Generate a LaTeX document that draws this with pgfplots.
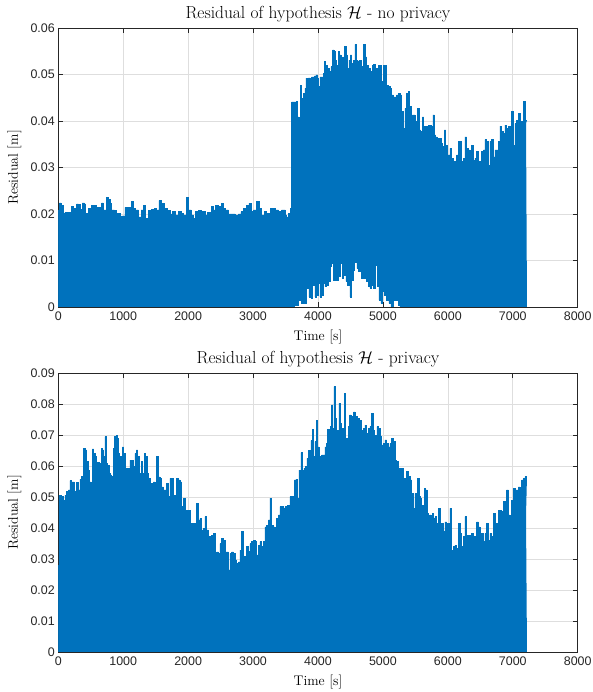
\documentclass[border=0pt]{standalone}
\usepackage{fontspec}
\usepackage{pgfplots}
\pgfplotsset{compat=1.18}
\newfontfamily\tickfont{Liberation Sans}
\definecolor{mblue}{rgb}{0,0.447,0.741}
\pgfplotsset{
  every axis title shift=0pt,
  mstyle/.style={
    scale only axis, width=519.4bp, height=279bp, anchor=south west,
    xmin=0, xmax=8000, ymin=0, scaled ticks=false,
    xtick={0,1000,2000,3000,4000,5000,6000,7000,8000},
    xticklabels={0,1000,2000,3000,4000,5000,6000,7000,8000},
    grid=major, grid style={color=black!13, line width=0.6bp},
    axis line style={color=black!85, line width=0.6bp},
    tick style={color=black!85, line width=0.6bp},
    major tick length=5bp, tick align=inside,
    ticklabel style={font=\tickfont\fontsize{12.5}{14}\selectfont, color=black!85},
    xticklabel style={yshift=-1bp},
    label style={font=\fontsize{14}{16}\selectfont},
    title style={font=\fontsize{17.5}{20}\selectfont, at={(axis description cs:0.5,1.0358)}, anchor=base, yshift=0pt},
    xlabel style={at={(axis description cs:0.5,-0.1183)}, anchor=base},
    ylabel style={at={(axis description cs:-0.0847,0.5)}, anchor=center},
    xlabel={Time [s]}, ylabel={Residual [m]},
  }
}
\begin{document}
\begin{tikzpicture}
\path[use as bounding box] (0,0) rectangle (593bp,692bp);
% ---------------- top axis ----------------
\begin{axis}[mstyle, at={(58.3bp,385bp)}, ymax=0.06,
  ytick={0,0.01,0.02,0.03,0.04,0.05,0.06},
  yticklabels={0,0.01,0.02,0.03,0.04,0.05,0.06},
  title={Residual of hypothesis $\mathcal{H}$ - no privacy}]
% upper envelope (forward), then lower envelope of the hole (backward)
\addplot[const plot, mblue, line width=0.5bp, fill=mblue] coordinates {
(0,0.0209) (15,0.0224) (40,0.0219) (70,0.0202) (103,0.0204) (180,0.0204) (206,0.0217) (232,0.0212)
(257,0.0202) (283,0.0222) (309,0.0221) (334,0.0210) (370,0.0224) (401,0.0222) (422,0.0202) (463,0.0212)
(514,0.0218) (565,0.0218) (591,0.0214) (642,0.0205) (668,0.0224) (694,0.0209) (745,0.0236) (771,0.0232)
(796,0.0223) (822,0.0209) (863,0.0207) (899,0.0202) (950,0.0194) (976,0.0196) (1027,0.0214) (1079,0.0214)
(1120,0.0227) (1156,0.0212) (1192,0.0209) (1233,0.0194) (1274,0.0209) (1310,0.0219) (1346,0.0191) (1387,0.0207)
(1438,0.0210) (1479,0.0212) (1515,0.0209) (1551,0.0229) (1592,0.0223) (1633,0.0212) (1685,0.0207) (1720,0.0200)
(1756,0.0205) (1797,0.0198) (1849,0.0205) (1890,0.0202) (1926,0.0198) (1977,0.0236) (2003,0.0209) (2044,0.0198)
(2080,0.0191) (2106,0.0205) (2157,0.0207) (2208,0.0206) (2259,0.0198) (2301,0.0203) (2352,0.0217) (2388,0.0209)
(2424,0.0219) (2465,0.0216) (2516,0.0223) (2542,0.0212) (2578,0.0209) (2619,0.0200) (2670,0.0200) (2722,0.0198)
(2773,0.0200) (2814,0.0205) (2850,0.0212) (2901,0.0219) (2937,0.0223) (2968,0.0205) (3004,0.0209) (3055,0.0227)
(3091,0.0212) (3132,0.0198) (3173,0.0205) (3209,0.0202) (3261,0.0212) (3312,0.0212) (3348,0.0209) (3389,0.0205)
(3440,0.0209) (3492,0.0198) (3517,0.0194) (3543,0.0201) (3569,0.0212) (3594,0.0441) (3671,0.0442) (3686,0.0409)
(3707,0.0406) (3732,0.0477) (3748,0.0449) (3773,0.0460) (3799,0.0470) (3814,0.0492) (3850,0.0493) (3876,0.0492)
(3891,0.0434) (3902,0.0495) (3943,0.0497) (3968,0.0499) (3994,0.0492) (4004,0.0474) (4030,0.0495) (4056,0.0495)
(4081,0.0503) (4097,0.0528) (4117,0.0520) (4148,0.0513) (4174,0.0506) (4200,0.0517) (4225,0.0553) (4246,0.0549)
(4261,0.0531) (4287,0.0520) (4312,0.0549) (4333,0.0542) (4354,0.0538) (4374,0.0531) (4395,0.0538) (4410,0.0560)
(4431,0.0542) (4451,0.0513) (4477,0.0531) (4497,0.0542) (4518,0.0524) (4543,0.0531) (4569,0.0565) (4590,0.0531)
(4610,0.0528) (4631,0.0531) (4662,0.0517) (4682,0.0492) (4703,0.0565) (4723,0.0538) (4749,0.0520) (4775,0.0513)
(4800,0.0477) (4816,0.0506) (4836,0.0520) (4857,0.0522) (4877,0.0510) (4903,0.0513) (4929,0.0520) (4954,0.0520)
(4980,0.0485) (5006,0.0520) (5031,0.0520) (5057,0.0477) (5083,0.0474) (5108,0.0470) (5134,0.0456) (5160,0.0452)
(5185,0.0452) (5211,0.0456) (5237,0.0460) (5262,0.0456) (5288,0.0420) (5314,0.0384) (5340,0.0427) (5366,0.0460)
(5391,0.0463) (5412,0.0431) (5432,0.0406) (5453,0.0413) (5473,0.0413) (5494,0.0392) (5509,0.0399) (5530,0.0427)
(5556,0.0381) (5581,0.0377) (5607,0.0409) (5628,0.0388) (5648,0.0381) (5674,0.0388) (5699,0.0390) (5725,0.0391)
(5751,0.0388) (5771,0.0413) (5792,0.0370) (5812,0.0366) (5833,0.0363) (5853,0.0348) (5874,0.0363) (5894,0.0352)
(5920,0.0345) (5946,0.0381) (5966,0.0348) (5997,0.0327) (6033,0.0341) (6059,0.0320) (6084,0.0313) (6110,0.0295)
(6136,0.0327) (6161,0.0356) (6187,0.0356) (6213,0.0313) (6238,0.0320) (6264,0.0366) (6290,0.0341) (6315,0.0338)
(6341,0.0302) (6367,0.0348) (6392,0.0316) (6418,0.0320) (6444,0.0334) (6469,0.0313) (6495,0.0302) (6521,0.0334)
(6546,0.0338) (6572,0.0360) (6598,0.0356) (6624,0.0305) (6649,0.0356) (6675,0.0360) (6701,0.0323) (6726,0.0338)
(6752,0.0338) (6778,0.0356) (6803,0.0389) (6829,0.0377) (6855,0.0374) (6880,0.0391) (6906,0.0384) (6932,0.0388)
(6957,0.0381) (6983,0.0420) (7009,0.0348) (7034,0.0395) (7060,0.0402) (7086,0.0416) (7111,0.0395) (7137,0.0399)
(7163,0.0442) (7188,0.0402) (7200,0.0395)
(7200,0) (5288,0) (5262,0.0004) (5237,0.0015) (5160,0) (5124,0.0008) (5093,0.0015) (5057,0.0026) (5021,0.0033)
(4995,0.0008) (4970,0.0015) (4939,0.0044) (4918,0.0090) (4877,0.0040) (4852,0.0047) (4826,0.0040) (4800,0.0044)
(4775,0.0055) (4749,0.0065) (4723,0.0062) (4697,0.0062) (4672,0.0080) (4646,0.0076) (4620,0.0083) (4600,0.0097)
(4579,0.0108) (4559,0.0080) (4543,0.0058) (4518,0.0022) (4492,0.0047) (4456,0.0055) (4431,0.0069) (4395,0.0062)
(4374,0.0094) (4338,0.0066) (4312,0.0058) (4287,0.0062) (4261,0.0058) (4235,0.0094) (4210,0.0087) (4184,0.0055)
(4158,0.0047) (4133,0.0044) (4107,0.0051) (4081,0.0026) (4056,0.0022) (4030,0.0051) (4004,0.0026) (3979,0.0022)
(3953,0.0047) (3912,0.0019) (3891,0.0022) (3861,0.0040) (3825,0.0008) (3773,0.0008) (3748,0.0015) (3696,0.0004)
(3645,0.0008) (3640,0) (0,0)
} -- cycle;
\end{axis}
% ---------------- bottom axis ----------------
\begin{axis}[mstyle, at={(58.3bp,40bp)}, ymax=0.09,
  ytick={0,0.01,0.02,0.03,0.04,0.05,0.06,0.07,0.08,0.09},
  yticklabels={0,0.01,0.02,0.03,0.04,0.05,0.06,0.07,0.08,0.09},
  title={Residual of hypothesis $\mathcal{H}$ - privacy}]
\addplot[const plot, mblue, line width=0.5bp, fill=mblue] coordinates {
(0,0.0280) (8,0.0506) (42,0.0503) (78,0.0490) (103,0.0506) (129,0.0517) (155,0.0523) (180,0.0553)
(206,0.0549) (232,0.0549) (247,0.0517) (268,0.0474) (283,0.0546) (309,0.0523) (334,0.0557) (360,0.0566)
(386,0.0657) (411,0.0652) (437,0.0614) (463,0.0587) (478,0.0549) (504,0.0533) (524,0.0655) (545,0.0641)
(565,0.0630) (581,0.0560) (606,0.0611) (632,0.0609) (658,0.0657) (678,0.0652) (699,0.0630) (719,0.0695)
(740,0.0609) (760,0.0603) (781,0.0576) (802,0.0571) (822,0.0566) (848,0.0657) (863,0.0695) (889,0.0700)
(909,0.0689) (925,0.0641) (945,0.0630) (966,0.0630) (986,0.0662) (1007,0.0641) (1027,0.0593) (1053,0.0593)
(1079,0.0593) (1104,0.0619) (1130,0.0619) (1156,0.0598) (1181,0.0641) (1202,0.0652) (1223,0.0630) (1243,0.0576)
(1264,0.0571) (1284,0.0614) (1300,0.0576) (1325,0.0641) (1346,0.0630) (1366,0.0576) (1387,0.0560) (1412,0.0533)
(1438,0.0544) (1464,0.0549) (1489,0.0538) (1515,0.0630) (1541,0.0565) (1566,0.0560) (1592,0.0533) (1618,0.0523)
(1643,0.0523) (1669,0.0544) (1695,0.0501) (1720,0.0560) (1746,0.0560) (1771,0.0505) (1797,0.0495) (1823,0.0560)
(1848,0.0555) (1874,0.0549) (1900,0.0469) (1925,0.0496) (1951,0.0426) (1977,0.0458) (2002,0.0458) (2028,0.0399)
(2054,0.0415) (2079,0.0415) (2105,0.0410) (2131,0.0480) (2156,0.0426) (2182,0.0431) (2208,0.0394) (2233,0.0399)
(2259,0.0437) (2285,0.0394) (2310,0.0372) (2336,0.0350) (2362,0.0377) (2387,0.0383) (2413,0.0313) (2439,0.0323)
(2464,0.0318) (2490,0.0350) (2516,0.0367) (2541,0.0361) (2567,0.0323) (2593,0.0323) (2618,0.0265) (2644,0.0318)
(2670,0.0323) (2695,0.0318) (2721,0.0297) (2747,0.0286) (2772,0.0291) (2798,0.0329) (2824,0.0388) (2849,0.0308)
(2875,0.0308) (2901,0.0340) (2926,0.0324) (2952,0.0350) (2978,0.0356) (3004,0.0361) (3029,0.0356) (3055,0.0313)
(3081,0.0345) (3106,0.0356) (3132,0.0340) (3158,0.0356) (3183,0.0404) (3209,0.0409) (3235,0.0426) (3260,0.0496)
(3286,0.0409) (3312,0.0404) (3337,0.0393) (3363,0.0431) (3389,0.0442) (3414,0.0469) (3440,0.0469) (3466,0.0463)
(3491,0.0469) (3532,0.0474) (3568,0.0501) (3594,0.0503) (3635,0.0555) (3660,0.0557) (3686,0.0496) (3707,0.0587)
(3737,0.0643) (3758,0.0587) (3784,0.0593) (3809,0.0598) (3830,0.0625) (3850,0.0650) (3876,0.0646) (3891,0.0682)
(3912,0.0718) (3933,0.0630) (3953,0.0679) (3974,0.0746) (3994,0.0662) (4015,0.0625) (4035,0.0630) (4056,0.0636)
(4081,0.0636) (4107,0.0662) (4133,0.0673) (4148,0.0718) (4169,0.0679) (4189,0.0727) (4210,0.0797) (4225,0.0722)
(4246,0.0856) (4261,0.0754) (4287,0.0679) (4302,0.0716) (4323,0.0802) (4343,0.0738) (4364,0.0722) (4389,0.0716)
(4405,0.0834) (4425,0.0689) (4446,0.0679) (4466,0.0727) (4487,0.0765) (4507,0.0759) (4528,0.0759) (4549,0.0775)
(4569,0.0743) (4590,0.0759) (4610,0.0754) (4631,0.0743) (4651,0.0748) (4672,0.0716) (4697,0.0722) (4723,0.0732)
(4749,0.0705) (4775,0.0722) (4800,0.0727) (4826,0.0770) (4846,0.0716) (4867,0.0679) (4887,0.0700) (4908,0.0727)
(4929,0.0722) (4954,0.0695) (4980,0.0668) (5006,0.0673) (5031,0.0684) (5057,0.0673) (5083,0.0662) (5108,0.0673)
(5134,0.0689) (5160,0.0679) (5185,0.0619) (5211,0.0614) (5237,0.0593) (5262,0.0565) (5288,0.0593) (5314,0.0560)
(5340,0.0555) (5366,0.0582) (5391,0.0566) (5417,0.0555) (5443,0.0512) (5468,0.0463) (5494,0.0512) (5520,0.0431)
(5535,0.0560) (5556,0.0501) (5576,0.0496) (5597,0.0474) (5622,0.0474) (5638,0.0528) (5658,0.0523) (5679,0.0447)
(5699,0.0437) (5720,0.0442) (5740,0.0437) (5761,0.0447) (5782,0.0431) (5802,0.0437) (5828,0.0415) (5853,0.0463)
(5879,0.0415) (5905,0.0415) (5930,0.0388) (5956,0.0420) (5982,0.0415) (6007,0.0415) (6033,0.0463) (6059,0.0329)
(6084,0.0340) (6110,0.0345) (6136,0.0334) (6161,0.0415) (6187,0.0383) (6213,0.0340) (6238,0.0372) (6264,0.0437)
(6290,0.0377) (6315,0.0377) (6341,0.0334) (6367,0.0383) (6392,0.0372) (6418,0.0340) (6444,0.0420) (6469,0.0404)
(6495,0.0350) (6521,0.0383) (6546,0.0356) (6572,0.0383) (6598,0.0415) (6624,0.0361) (6649,0.0383) (6675,0.0372)
(6701,0.0447) (6726,0.0410) (6752,0.0415) (6778,0.0458) (6803,0.0458) (6829,0.0453) (6855,0.0485) (6880,0.0474)
(6906,0.0523) (6932,0.0442) (6957,0.0415) (6983,0.0490) (7009,0.0528) (7034,0.0523) (7060,0.0523) (7086,0.0533)
(7111,0.0528) (7137,0.0555) (7163,0.0560) (7188,0.0566) (7200,0.0442)
} \closedcycle;
\end{axis}
\end{tikzpicture}
\end{document}
